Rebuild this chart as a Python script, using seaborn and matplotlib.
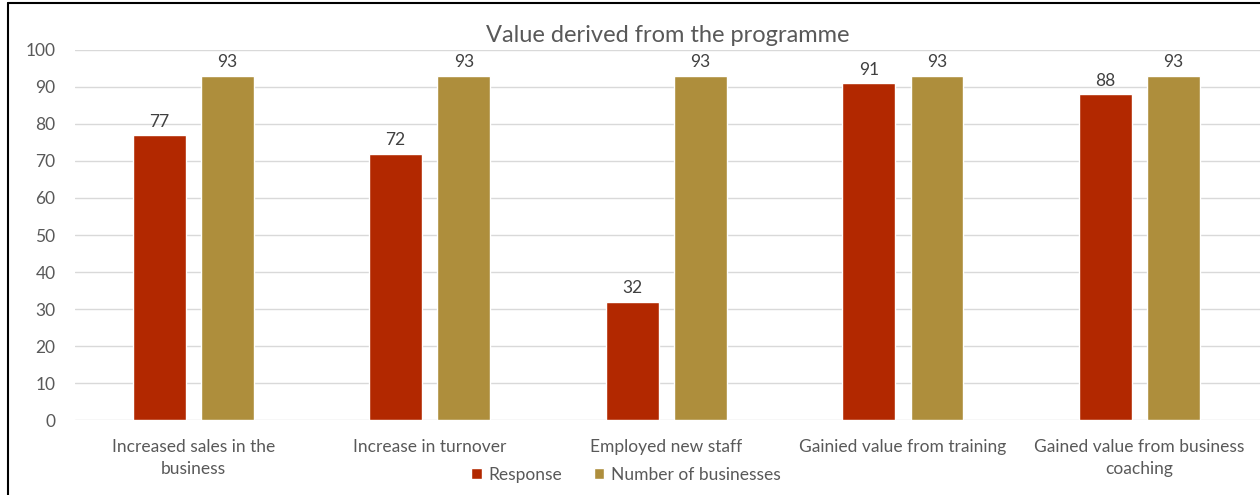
import matplotlib
matplotlib.use("Agg")
import matplotlib.pyplot as plt
from matplotlib.lines import Line2D
import seaborn as sns
import pandas as pd

categories = ["Increased sales in the\nbusiness", "Increase in turnover", "Employed new staff",
              "Gainied value from training", "Gained value from business\ncoaching"]
response = [77, 72, 32, 91, 88]
businesses = [93, 93, 93, 93, 93]
series_names = ["Response", "Number of businesses"]
colors = ["#B22800", "#AE8E3C"]

df = pd.DataFrame({
    "category": categories * 2,
    "value": response + businesses,
    "series": [series_names[0]] * len(categories) + [series_names[1]] * len(categories),
})

sns.set_theme(style="white")
plt.rcParams['font.family'] = ['Lato', 'DejaVu Sans']
txt = "#595959"

fig = plt.figure(figsize=(12.6, 4.95), dpi=100)
ax = fig.add_axes([0.0595, 0.1515, 0.9405, 0.7475])

sns.barplot(data=df, x="category", y="value", hue="series", palette=colors,
            width=0.577, gap=0.225, ax=ax, saturation=1, legend=True)

for c in ax.containers:
    ax.bar_label(c, fmt="%d", padding=4, fontsize=12.5, color="#404040")

ax.set_ylim(0, 100)
ax.set_xlim(-0.5, 4.51)
ax.set_yticks(range(0, 101, 10))
ax.yaxis.grid(True, color="#d9d9d9", linewidth=1)
ax.set_axisbelow(True)
for s in ax.spines.values():
    s.set_visible(False)
ax.tick_params(axis="both", length=0, labelsize=12.5, colors=txt)
ax.tick_params(axis="x", pad=14)
ax.tick_params(axis="y", pad=14)
for lbl in ax.get_xticklabels():
    lbl.set_linespacing(1.45)
ax.set_xlabel("")
ax.set_ylabel("")
ax.set_title("Value derived from the programme", fontsize=17, color=txt, pad=6)

leg = ax.legend(loc="upper center", bbox_to_anchor=(0.465, -0.085), ncol=2, frameon=False,
                fontsize=12.5, handlelength=0.6, handleheight=0.6, handletextpad=0.4,
                columnspacing=1.8)
for t in leg.get_texts():
    t.set_color(txt)

fig.add_artist(Line2D([0.006, 0.006], [0, 0.994], color="black", linewidth=1.5, transform=fig.transFigure))
fig.add_artist(Line2D([0.006, 1.0], [0.994, 0.994], color="black", linewidth=1.5, transform=fig.transFigure))

fig.savefig("out.png", dpi=100, facecolor="white")
